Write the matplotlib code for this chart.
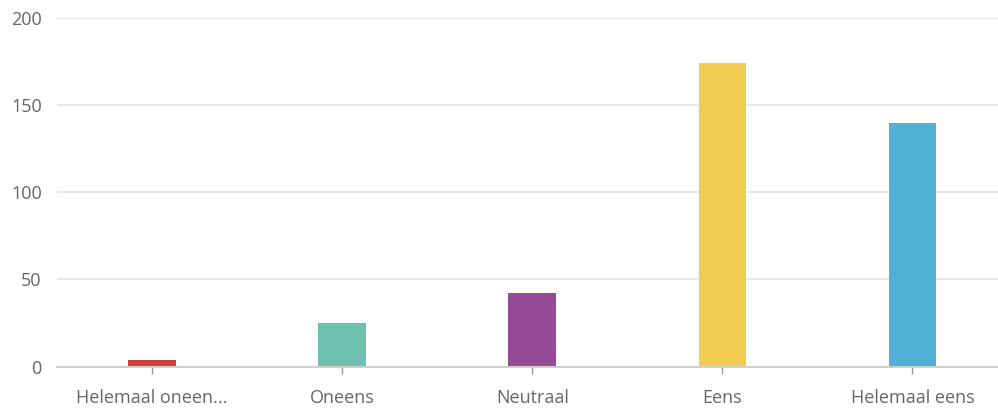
import matplotlib.pyplot as plt
import numpy as np

# Data
categories = ['Helemaal oneen...', 'Oneens', 'Neutraal', 'Eens', 'Helemaal eens']
counts = [4, 25, 42, 174, 140]
colors = ['#C8403E', '#6DC1AE', '#974A98', '#F2CC50', '#4FB1D5']
yticks = [0, 50, 100, 150, 200]

plt.rcParams['font.family'] = ['Open Sans', 'DejaVu Sans']

fig = plt.figure(figsize=(9.98, 4.09), dpi=100)
ax = fig.add_axes([57 / 998, 42.5 / 409, 1 - 57 / 998, 348.5 / 409])

x = np.arange(len(categories))
ax.bar(x, counts, width=0.25, color=colors, zorder=3)

ax.set_ylim(0, 200)
ax.set_xlim(-0.5, 4.45)
ax.set_yticks(yticks)
ax.set_xticks(x)
ax.set_xticklabels(categories)

ax.grid(axis='y', color='#e4e4e4', linewidth=1.2, zorder=0)
for s in ['top', 'right', 'left']:
    ax.spines[s].set_visible(False)
ax.spines['bottom'].set_color('#cfcfcf')
ax.spines['bottom'].set_linewidth(1.5)
ax.spines['bottom'].set_zorder(4)

ax.tick_params(axis='y', length=0, pad=11, labelsize=13, labelcolor='#666666')
ax.tick_params(axis='x', length=5, width=1, color='#999999', pad=11,
               labelsize=13, labelcolor='#666666')

fig.savefig('out.png', dpi=100)
